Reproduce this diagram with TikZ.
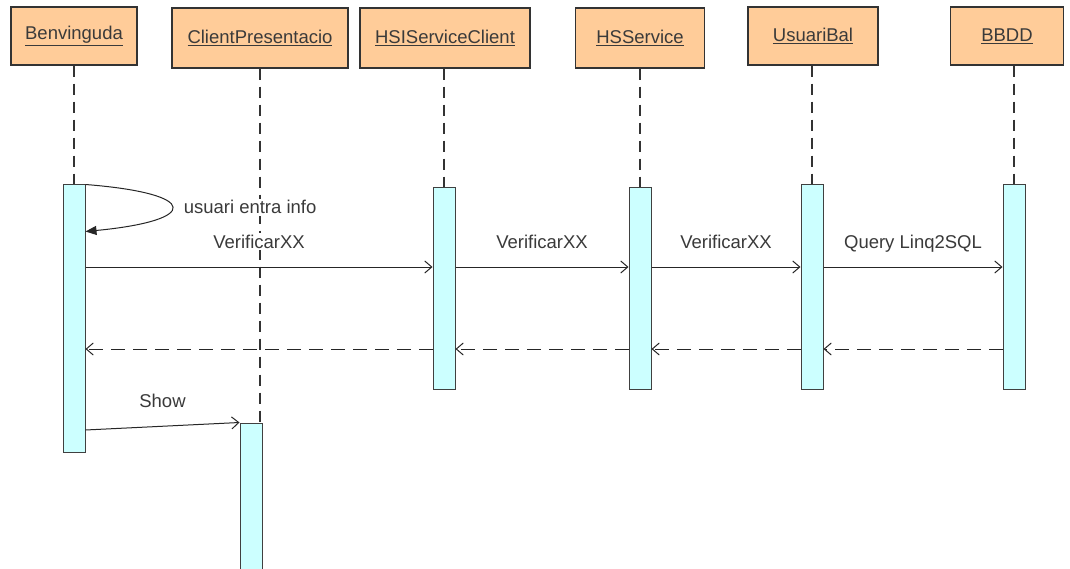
\documentclass[tikz,border=0pt]{standalone}
\usepackage{fontspec}
\setmainfont{Liberation Sans}
\usetikzlibrary{arrows.meta}

\definecolor{headfill}{HTML}{FFCC99}
\definecolor{barfill}{HTML}{CCFFFF}
\definecolor{txtgray}{HTML}{3A3A3A}

\begin{document}
\begin{tikzpicture}[x=1pt,y=-1pt,
                    every node/.style={font=\fontsize{18.5}{22}\selectfont,text=txtgray},
                    head/.style={rectangle,draw=black!80,fill=headfill,line width=1.3pt,minimum height=58pt},
                    actbar/.style={rectangle,draw=black!75,fill=barfill,line width=1pt,minimum width=22pt,inner sep=0pt},
                    lifeline/.style={draw=black!80,line width=1.2pt,dash pattern=on 11pt off 7pt},
                    msg/.style={->,line width=1pt,draw=black!85},
                    reply/.style={msg,dash pattern=on 14pt off 8pt},
                    msglabel/.style={midway,anchor=base,yshift=19pt,fill=white,inner sep=1.5pt},
                    >={Straight Barb[length=7pt,width=12pt]}]

\useasboundingbox (0,0) rectangle (1070,569);

% objects
\node[head,minimum width=126pt] (benv) at (74,36) {\underline{Benvinguda}};
\node[head,minimum width=176pt,minimum height=60pt] (client) at (260,38) {\underline{ClientPresentacio}};
\node[head,minimum width=170pt,minimum height=60pt] (hsic) at (445,38) {\underline{HSIServiceClient}};
\node[head,minimum width=129pt,minimum height=60pt] (hss) at (640,38) {\underline{HSService}};
\node[head,minimum width=130pt] (ubal) at (813,36) {\underline{UsuariBal}};
\node[head,minimum width=113pt] (bbdd) at (1007,36) {\underline{BBDD}};

% activations
\node[actbar,minimum height=267pt] (benvbar) at (74,318.5) {};
\node[actbar,minimum height=157pt] (cpbar) at (251,501.5) {};
\node[actbar,minimum height=201pt] (hsicbar) at (444,288.5) {};
\node[actbar,minimum height=201pt] (hssbar) at (640,288.5) {};
\node[actbar,minimum height=204pt] (ubalbar) at (812,287) {};
\node[actbar,minimum height=204pt] (bbddbar) at (1014,287) {};

% lifelines
\draw[lifeline] (benv.south -| benvbar.north) -- (benvbar.north);
\draw[lifeline] (client.south) -- (client.south |- cpbar.north);
\draw[lifeline] (hsic.south -| hsicbar.north) -- (hsicbar.north);
\draw[lifeline] (hss.south -| hssbar.north) -- (hssbar.north);
\draw[lifeline] (ubal.south -| ubalbar.north) -- (ubalbar.north);
\draw[lifeline] (bbdd.south -| bbddbar.north) -- (bbddbar.north);

% message rows
\coordinate (call) at (0,267);
\coordinate (back) at (0,349);
\coordinate (show) at (0,430);

\draw[line width=1pt,draw=black!85,-{Triangle[length=11pt,width=9pt]}] (benvbar.north east)
    .. controls +(115,9) and +(115,-11) .. ([yshift=-47pt]benvbar.north east)
    node[pos=0.5,anchor=west,xshift=10pt,fill=white,inner sep=1.5pt] {usuari entra info};

\draw[msg] (benvbar.east |- call) -- (hsicbar.west |- call) node[msglabel] {VerificarXX};
\draw[msg] (hsicbar.east |- call) -- (hssbar.west |- call) node[msglabel] {VerificarXX};
\draw[msg] (hssbar.east |- call) -- (ubalbar.west |- call) node[msglabel] {VerificarXX};
\draw[msg] (ubalbar.east |- call) -- (bbddbar.west |- call) node[msglabel] {Query Linq2SQL};

\draw[reply] (bbddbar.west |- back) -- (ubalbar.east |- back);
\draw[reply] (ubalbar.west |- back) -- (hssbar.east |- back);
\draw[reply] (hssbar.west |- back) -- (hsicbar.east |- back);
\draw[reply] (hsicbar.west |- back) -- (benvbar.east |- back);

\draw[msg] (benvbar.east |- show) -- (cpbar.north west) node[msglabel] {Show};

\end{tikzpicture}
\end{document}
